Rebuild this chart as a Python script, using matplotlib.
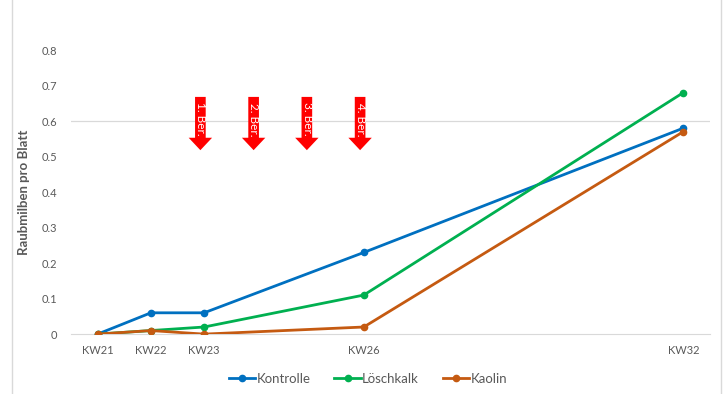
import matplotlib.pyplot as plt
import matplotlib.patches as mpatches
import numpy as np

plt.rcParams['font.family'] = ['Lato', 'DejaVu Sans']

weeks = [21, 22, 23, 26, 32]
week_labels = ['KW21', 'KW22', 'KW23', 'KW26', 'KW32']
kontrolle = [0, 0.06, 0.06, 0.23, 0.58]
loeschkalk = [0, 0.01, 0.02, 0.11, 0.68]
kaolin = [0, 0.01, 0.0, 0.02, 0.57]

spray_weeks = [23, 24, 25, 26]
spray_labels = ['1. Ber.', '2. Ber.', '3. Ber.', '4. Ber.']

grey = '#595959'

fig = plt.figure(figsize=(7.26, 3.94), dpi=100)
ax = fig.add_axes([0.0978, 0.152, 0.880, 0.721])

ax.axhline(0.6, color='#d9d9d9', lw=0.9, zorder=0)

ax.plot(weeks, kontrolle, color='#0070C0', lw=2, marker='o', ms=4.5, label='Kontrolle', zorder=3)
ax.plot(weeks, loeschkalk, color='#00B050', lw=2, marker='o', ms=4.5, label='Löschkalk', zorder=3)
ax.plot(weeks, kaolin, color='#C55A11', lw=2, marker='o', ms=4.5, label='Kaolin', zorder=3)

# spray arrows
for w, lab in zip(spray_weeks, spray_labels):
    arr = mpatches.FancyArrow(w - 0.07, 0.668, 0, -0.15, width=0.2, head_width=0.44,
                              head_length=0.035, length_includes_head=True,
                              color='#FF0000', lw=0, zorder=4)
    ax.add_patch(arr)
    ax.text(w - 0.065, 0.605, lab, rotation=-90, color='white', fontsize=8.5,
            ha='center', va='center', zorder=5)

ax.set_xlim(20.5, 32.5)
ax.set_ylim(0, 0.8)
ax.set_xticks(weeks, labels=week_labels)
ax.set_yticks(np.arange(0, 0.81, 0.1), labels=['0', '0.1', '0.2', '0.3', '0.4', '0.5', '0.6', '0.7', '0.8'])
ax.tick_params(length=0, labelsize=8, colors=grey, pad=8)
ax.tick_params(axis='y', pad=10)
for s in ['top', 'right', 'left']:
    ax.spines[s].set_visible(False)
ax.spines['bottom'].set_color('#d9d9d9')
ax.set_ylabel('Raubmilben pro Blatt', fontsize=9.5, fontweight='bold', color=grey, labelpad=8)

leg = ax.legend(loc='upper center', bbox_to_anchor=(0.465, -0.095), ncol=3, frameon=False,
                fontsize=9.5, handlelength=2.0, columnspacing=1.8, handletextpad=0.1)
for t in leg.get_texts():
    t.set_color(grey)

# chart border lines at left and right
fig.add_artist(plt.Line2D([0.017, 0.017], [0, 1], color='#d9d9d9', lw=1))
fig.add_artist(plt.Line2D([0.993, 0.993], [0, 1], color='#d9d9d9', lw=1))

fig.savefig('out.png', dpi=100)
